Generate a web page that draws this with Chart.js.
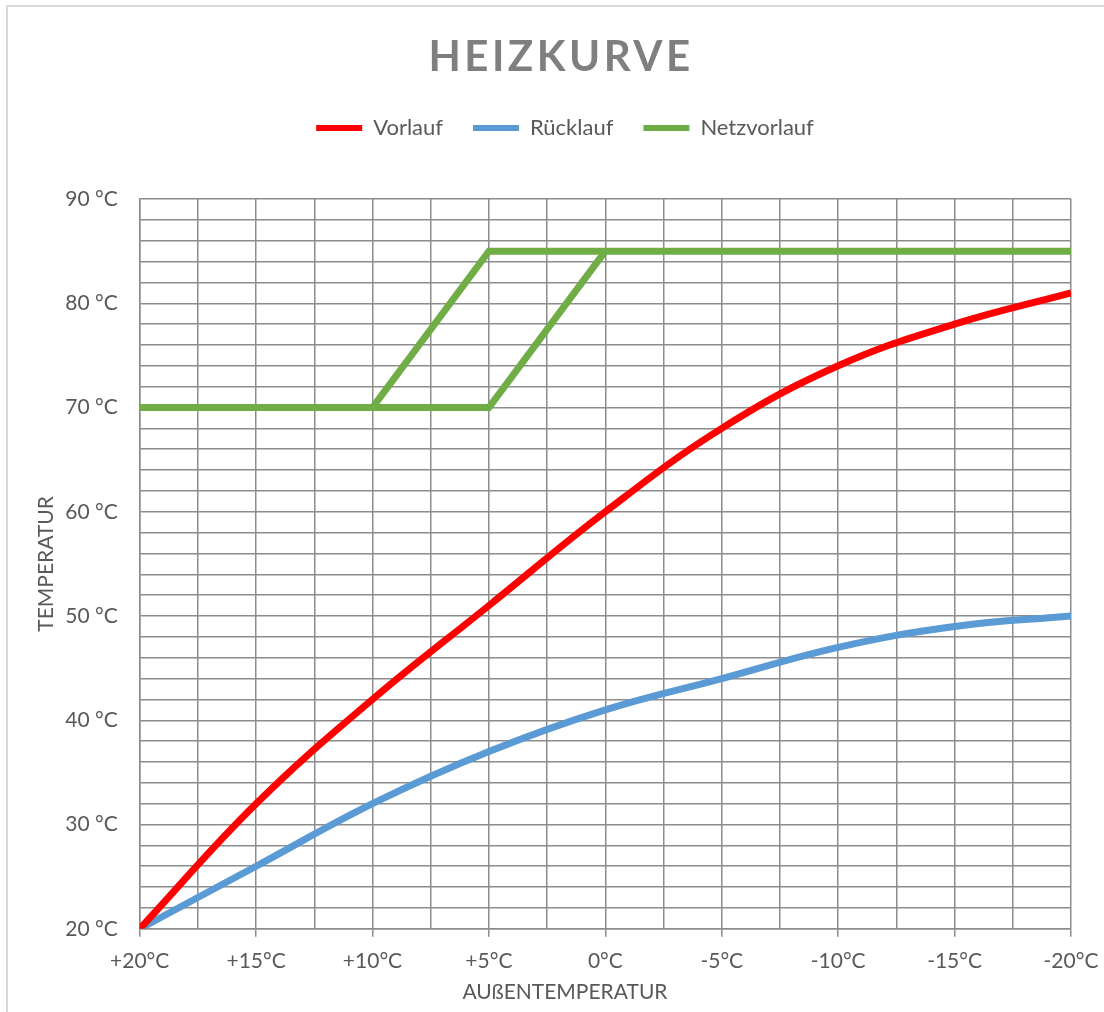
<!DOCTYPE html>
<html>
<head>
<meta charset="utf-8">
<script src="https://cdn.jsdelivr.net/npm/chart.js@4.4.1/dist/chart.umd.min.js"></script>
<style>
  html, body { margin: 0; padding: 0; background: #fff; }
  #wrap { position: relative; width: 1104px; height: 1012px; }
  #frame { position: absolute; left: 6px; top: 5px; width: 1110px; height: 1020px;
           border-left: 2px solid #d9d9d9; border-top: 2px solid #d9d9d9; pointer-events: none; }
</style>
</head>
<body>
<div id="wrap">
  <canvas id="heizkurve" width="1104" height="1012"></canvas>
  <div id="frame"></div>
</div>
<script>
'use strict';

// Außentemperatur (°C), von +20 nach -20
let aussen = [20, 15, 10, 5, 0, -5, -10, -15, -20];
let vorlauf = [20, 32, 42, 51, 60, 68, 74, 78, 81];
let ruecklauf = [20, 26, 32, 37, 41, 44, 47, 49, 50];

// Netzvorlauf: zwei Äste (Umschaltung)
let netzX1 = [20, 10, 5, -20];
let netzY1 = [70, 70, 85, 85];
let netzX2 = [10, 5, 0];
let netzY2 = [70, 70, 85];

let yTicks = [20, 30, 40, 50, 60, 70, 80, 90];
let xTicks = [20, 15, 10, 5, 0, -5, -10, -15, -20];

let font = 'Lato';
let textColor = '#595959';
let gridColor = '#8c8c8c';

let toPoints = (xs, ys) => xs.map((x, i) => ({x: x, y: ys[i]}));
let netzPoints = toPoints(netzX1, netzY1)
    .concat([{x: netzX1[netzX1.length - 1], y: null}])
    .concat(toPoints(netzX2, netzY2));

let fmtX = (v) => (v > 0 ? '+' : '') + v + '°C';

let titlePlugin = {
    id: 'titles',
    afterDraw(chart) {
        let ctx = chart.ctx;
        let cx = (26 + chart.width) / 2;
        ctx.save();
        ctx.fillStyle = '#7f7f7f';
        ctx.textAlign = 'center';
        ctx.textBaseline = 'middle';
        ctx.font = 'bold 42px ' + font;
        ctx.letterSpacing = '3.5px';
        ctx.fillText('HEIZKURVE', cx - 4, 57);
        ctx.letterSpacing = '0px';
        ctx.fillStyle = textColor;
        ctx.font = '21px ' + font;
        ctx.fillText('AUßENTEMPERATUR', cx, 992);
        ctx.restore();
    }
};

new Chart(document.getElementById('heizkurve'), {
    type: 'line',
    data: {
        datasets: [
            {
                label: 'Vorlauf',
                data: toPoints(aussen, vorlauf),
                borderColor: '#ff0000',
                backgroundColor: '#ff0000',
                borderWidth: 7,
                pointRadius: 0,
                tension: 0.4
            },
            {
                label: 'Rücklauf',
                data: toPoints(aussen, ruecklauf),
                borderColor: '#5b9bd5',
                backgroundColor: '#5b9bd5',
                borderWidth: 7,
                pointRadius: 0,
                tension: 0.4
            },
            {
                label: 'Netzvorlauf',
                data: netzPoints,
                borderColor: '#70ad47',
                backgroundColor: '#70ad47',
                borderWidth: 7,
                pointRadius: 0,
                tension: 0,
                spanGaps: false
            }
        ]
    },
    options: {
        responsive: false,
        animation: false,
        layout: {
            padding: {left: 26, top: 87, right: 0, bottom: 26}
        },
        scales: {
            x: {
                type: 'linear',
                reverse: true,
                min: -20,
                max: 20,
                afterBuildTicks: (axis) => {
                    let t = [];
                    for (let v = 20; v >= -20; v -= 2.5) t.push({value: v});
                    axis.ticks = t;
                },
                afterFit: (axis) => {
                    axis.paddingRight = 33;
                },
                grid: {
                    color: gridColor,
                    lineWidth: 1.5,
                    tickLength: 8,
                    tickColor: (c) => (c.tick && xTicks.includes(c.tick.value)) ? gridColor : 'rgba(0,0,0,0)'
                },
                border: {color: gridColor, width: 1.5},
                ticks: {
                    autoSkip: false,
                    maxRotation: 0,
                    padding: 12,
                    color: textColor,
                    font: {family: font, size: 21},
                    callback: (v) => xTicks.includes(v) ? fmtX(v) : ''
                }
            },
            y: {
                type: 'linear',
                min: 20,
                max: 90,
                afterBuildTicks: (axis) => {
                    let t = [];
                    for (let v = 20; v <= 90; v += 2) t.push({value: v});
                    axis.ticks = t;
                },
                grid: {
                    color: gridColor,
                    lineWidth: 1.5,
                    drawTicks: false
                },
                border: {color: gridColor, width: 1.5},
                title: {
                    display: true,
                    text: 'TEMPERATUR',
                    color: textColor,
                    font: {family: font, size: 21},
                    padding: {top: 8, bottom: -16}
                },
                ticks: {
                    autoSkip: false,
                    padding: 22,
                    color: textColor,
                    font: {family: font, size: 21},
                    callback: (v) => yTicks.includes(v) ? v + ' °C' : ''
                }
            }
        },
        plugins: {
            legend: {
                display: true,
                position: 'top',
                labels: {
                    boxWidth: 46,
                    boxHeight: 6,
                    padding: 30,
                    color: textColor,
                    font: {family: font, size: 22},
                    generateLabels: (chart) => Chart.defaults.plugins.legend.labels.generateLabels(chart)
                        .map((l) => Object.assign(l, {lineWidth: 0}))
                }
            },
            subtitle: {
                display: true,
                text: '',
                weight: 100,
                padding: {top: 0, bottom: 14},
                font: {size: 30}
            },
            tooltip: {enabled: false}
        }
    },
    plugins: [titlePlugin]
});
</script>
</body>
</html>
